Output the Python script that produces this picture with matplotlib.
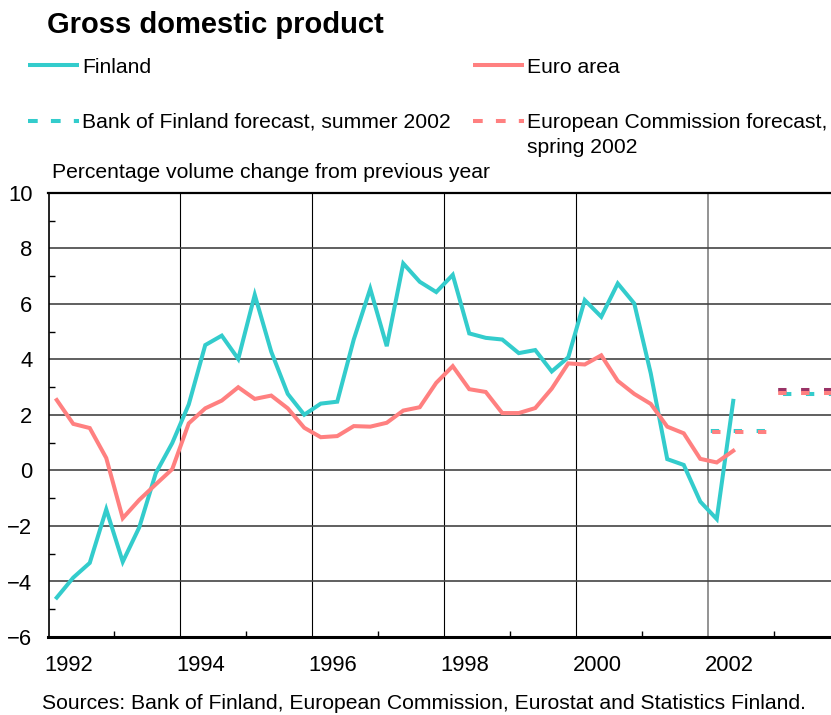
import numpy as np
import matplotlib
matplotlib.use('Agg')
import matplotlib.pyplot as plt
from matplotlib.lines import Line2D
from matplotlib.transforms import ScaledTranslation

plt.rcParams['font.family'] = ['Liberation Sans', 'DejaVu Sans']
plt.rcParams['lines.scale_dashes'] = False

# quarterly GDP growth, 1992Q1 - 2002Q2
start_year = 1992
finland = [-4.58, -3.86, -3.33, -1.40,
           -3.29, -2.05, -0.10, 0.99,
           2.38, 4.52, 4.86, 4.02,
           6.33, 4.28, 2.76, 2.01,
           2.41, 2.48, 4.72, 6.55,
           4.48, 7.46, 6.80, 6.43,
           7.05, 4.94, 4.78, 4.72,
           4.23, 4.34, 3.57, 4.08,
           6.14, 5.54, 6.74, 6.02,
           3.50, 0.41, 0.20, -1.12,
           -1.75, 2.51]
euro_area = [2.54, 1.68, 1.53, 0.45,
             -1.72, -1.06, -0.50, 0.05,
             1.70, 2.24, 2.52, 3.00,
             2.58, 2.70, 2.24, 1.54,
             1.20, 1.24, 1.60, 1.58,
             1.72, 2.16, 2.28, 3.16,
             3.76, 2.93, 2.83, 2.07,
             2.07, 2.25, 2.95, 3.86,
             3.82, 4.15, 3.23, 2.76,
             2.40, 1.58, 1.34, 0.42,
             0.29, 0.71]

# annual forecasts
forecast_years = [2002, 2003]
fin_forecast = [1.43, 2.75]
euro_forecast = [1.40, 2.80]
other_2003 = 2.90

CYAN = '#33CCCC'
RED = '#FF8080'
PURPLE = '#993366'
LW = 2.9
DASH = (6, 10.5)
FS = 15.2

quarters = start_year + (np.arange(len(finland)) + 0.5) / 4

W, H = 831, 715
fig = plt.figure(figsize=(W / 100, H / 100), dpi=100)


def fx(x):
    return x / W


def fy(y):
    return 1 - y / H


# axes extend past the right edge, like the original
ax = fig.add_axes([fx(48.5), fy(637), 792 / W, (637 - 193) / H])
ax.set_xlim(1992, 2004)
ax.set_ylim(-6, 10)

ax.plot(quarters, finland, color=CYAN, lw=LW, zorder=4, solid_joinstyle='miter')
ax.plot(quarters, euro_area, color=RED, lw=LW, zorder=5, solid_joinstyle='miter')

# forecasts: 2002 cyan sits just behind the red dashes, 2003 interleaved
fin_offsets = [0, 12]
for yr, v, off in zip(forecast_years, fin_forecast, fin_offsets):
    ax.hlines(v, yr, yr + 1, color=CYAN, lw=LW, linestyles=[(off - 2, DASH)], zorder=4)
for yr, v in zip(forecast_years, euro_forecast):
    ax.hlines(v, yr, yr + 1, color=RED, lw=LW, linestyles=[(-3, DASH)], zorder=5)
ax.hlines(other_2003, 2003, 2004, color=PURPLE, lw=LW, linestyles=[(-3, DASH)], zorder=3)

# ticks and grid
ax.set_xticks(np.arange(1992, 2003, 2))
ax.set_xticks(np.arange(1993, 2004, 2), minor=True)
ax.set_yticks(np.arange(-6, 11, 2))
ax.set_yticks(np.arange(-5, 10, 2), minor=True)
ax.tick_params(which='major', length=0, labelsize=15.8, colors='black')
ax.tick_params(axis='x', which='major', pad=13)
ax.tick_params(axis='y', which='major', pad=11.5)
ax.tick_params(which='minor', direction='in', length=4, width=1, colors='black')

for lab in ax.get_xticklabels():
    lab.set_horizontalalignment('left')
    lab.set_transform(lab.get_transform() + ScaledTranslation(-4 / 100, 0, fig.dpi_scale_trans))

ax.yaxis.grid(True, color='#444444', lw=1.2, zorder=1)
ax.xaxis.grid(True, color='black', lw=0.8, zorder=1)
for gl, yr in zip(ax.get_xgridlines(), np.arange(1992, 2003, 2)):
    if yr == 2002:
        gl.set_color('#808080')
        gl.set_linewidth(1.2)
ax.set_axisbelow(True)

ax.spines['right'].set_visible(False)
ax.spines['left'].set_linewidth(1.2)
ax.spines['top'].set_linewidth(1.6)
ax.spines['bottom'].set_linewidth(2.2)

# title and legend
fig.text(fx(47), fy(33), 'Gross domestic product', fontsize=21, fontweight='bold', va='baseline')

legend_items = [
    (28, 64.5, CYAN, '-', 'Finland', 73),
    (473, 64.5, RED, '-', 'Euro area', 73),
    (28, 121, CYAN, '--', 'Bank of Finland forecast, summer 2002', 128),
    (473, 121, RED, '--', 'European Commission forecast,', 128),
]
for x0, ly, col, ls, label, base in legend_items:
    line = Line2D([fx(x0), fx(x0 + 51)], [fy(ly), fy(ly)], transform=fig.transFigure,
                  color=col, lw=LW, solid_capstyle='butt', dash_capstyle='butt')
    if ls == '--':
        line.set_dashes((7, 9.5))
    fig.add_artist(line)
    fig.text(fx(x0 + 54), fy(base), label, fontsize=FS, va='baseline')
fig.text(fx(527), fy(153), 'spring 2002', fontsize=FS, va='baseline')

fig.text(fx(52), fy(178), 'Percentage volume change from previous year', fontsize=FS, va='baseline')
fig.text(fx(42), fy(709), 'Sources: Bank of Finland, European Commission, Eurostat and Statistics Finland.',
         fontsize=FS, va='baseline')

fig.savefig('out.png', dpi=100)
